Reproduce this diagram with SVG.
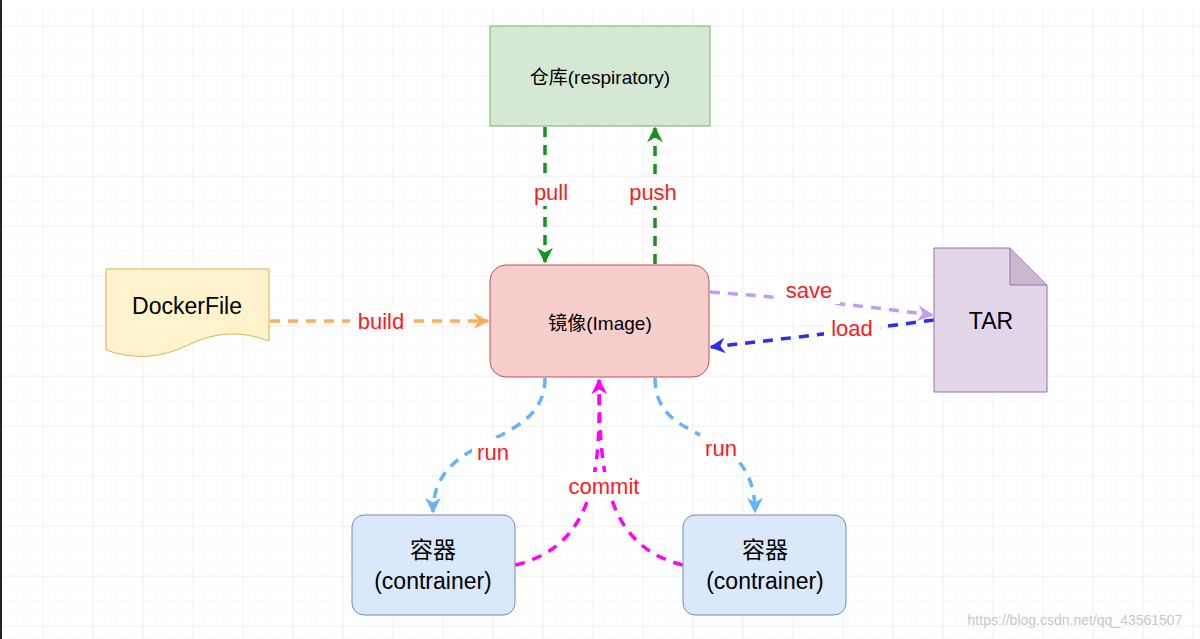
<svg xmlns="http://www.w3.org/2000/svg" width="1200" height="639" viewBox="0 0 1200 639">
<defs>
<pattern id="minor" x="5.5" y="1" width="12.5" height="12.5" patternUnits="userSpaceOnUse"><path d="M12.5 0V12.5M0 12.5H12.5" fill="none" stroke="#f5f5f5" stroke-width="1"/></pattern>
<pattern id="major" x="-7" y="26" width="50" height="50" patternUnits="userSpaceOnUse"><path d="M0 0V50M0 0H50" fill="none" stroke="#ececec" stroke-width="1"/></pattern>
<marker id="aG" viewBox="0 0 10 10" refX="9" refY="5" markerWidth="4.5" markerHeight="4.5" orient="auto" markerUnits="strokeWidth"><path d="M0 0L10 5L0 10L3 5Z" fill="#14941b"/></marker>
<marker id="aO" viewBox="0 0 10 10" refX="9" refY="5" markerWidth="4.5" markerHeight="4.5" orient="auto" markerUnits="strokeWidth"><path d="M0 0L10 5L0 10L3 5Z" fill="#ffad5c"/></marker>
<marker id="aP" viewBox="0 0 10 10" refX="9" refY="5" markerWidth="4.5" markerHeight="4.5" orient="auto" markerUnits="strokeWidth"><path d="M0 0L10 5L0 10L3 5Z" fill="#c39cf4"/></marker>
<marker id="aB" viewBox="0 0 10 10" refX="9" refY="5" markerWidth="4.5" markerHeight="4.5" orient="auto" markerUnits="strokeWidth"><path d="M0 0L10 5L0 10L3 5Z" fill="#2d2df5"/></marker>
<marker id="aL" viewBox="0 0 10 10" refX="9" refY="5" markerWidth="4.5" markerHeight="4.5" orient="auto" markerUnits="strokeWidth"><path d="M0 0L10 5L0 10L3 5Z" fill="#66b2ff"/></marker>
<marker id="aM" viewBox="0 0 10 10" refX="9" refY="5" markerWidth="4.5" markerHeight="4.5" orient="auto" markerUnits="strokeWidth"><path d="M0 0L10 5L0 10L3 5Z" fill="#ff00ff"/></marker>
</defs>
<style>
text{font-family:"Liberation Sans","Noto Sans CJK SC",sans-serif;text-anchor:middle;dominant-baseline:central}
.n{font-size:23px;fill:#000}
.s{font-size:19px;fill:#000}
.l{font-size:22px;fill:#ff1a1a}
.c{fill:none;stroke-width:3.5;stroke-dasharray:10 8}
</style>
<rect width="1200" height="639" fill="#fff"/>
<rect x="0" y="8" width="1200" height="631" fill="url(#minor)"/>
<rect x="0" y="8" width="1200" height="631" fill="url(#major)"/>
<rect x="0" y="0" width="2" height="639" fill="#222"/>
<g id="connectors">
<path class="c" d="M545 127V262" stroke="#14941b" marker-end="url(#aG)"/>
<path class="c" d="M655 264V128" stroke="#14941b" marker-end="url(#aG)"/>
<path class="c" d="M270 321H488" stroke="#ffad5c" marker-end="url(#aO)"/>
<path class="c" d="M710 292Q820 300 932 315" stroke="#c39cf4" marker-end="url(#aP)"/>
<path class="c" d="M934 320Q820 335 711 347" stroke="#2d2df5" marker-end="url(#aB)"/>
<path class="c" d="M545 378C545 450 433 430 433 512" stroke="#66b2ff" marker-end="url(#aL)"/>
<path class="c" d="M655 378C655 450 755 420 755 512" stroke="#66b2ff" marker-end="url(#aL)"/>
<path class="c" d="M515 565C600 545 600 460 599 380" stroke="#ff00ff" marker-end="url(#aM)"/>
<path class="c" d="M683 565C600 545 600 460 599 380" stroke="#ff00ff"/>
<rect x="528" y="178" width="46" height="28" fill="#fff"/><text class="l" x="551" y="192">pull</text>
<rect x="622" y="178" width="62" height="28" fill="#fff"/><text class="l" x="653" y="192">push</text>
<rect x="350" y="307" width="62" height="28" fill="#fff"/><text class="l" x="381" y="321">build</text>
<rect x="778" y="276" width="62" height="28" fill="#fff"/><text class="l" x="809" y="290">save</text>
<rect x="824" y="314" width="56" height="28" fill="#fff"/><text class="l" x="852" y="328">load</text>
<rect x="472" y="438" width="42" height="28" fill="#fff"/><text class="l" x="493" y="452">run</text>
<rect x="700" y="434" width="42" height="28" fill="#fff"/><text class="l" x="721" y="448">run</text>
<rect x="560" y="472" width="88" height="28" fill="#fff"/><text class="l" x="604" y="486">commit</text>
</g>
<g id="repo"><rect x="490" y="26" width="220" height="100" fill="#d5e8d4" stroke="#82b366"/><text class="s" x="600" y="77">仓库(respiratory)</text></g>
<g id="image"><rect x="490" y="265" width="219" height="112" rx="16" fill="#f8cecc" stroke="#b85450"/><text class="s" x="600" y="323">镜像(Image)</text></g>
<g id="dockerfile"><path d="M106 269H269V341Q228 325 188 345T106 350Z" fill="#fff2cc" stroke="#d6b656"/><text class="n" x="187" y="306">DockerFile</text></g>
<g id="tar"><path d="M934 248H1010L1047 285V392H934Z" fill="#e1d5e7" stroke="#9673a6"/><path d="M1010 248V285H1047" fill="#c9b8d2" stroke="#9673a6"/><text class="n" x="991" y="321">TAR</text></g>
<g id="c1"><rect x="352" y="515" width="163" height="100" rx="12" fill="#dae8fc" stroke="#6c8ebf"/><text class="n" x="433" y="550">容器</text><text class="n" x="433" y="581">(contrainer)</text></g>
<g id="c2"><rect x="683" y="515" width="163" height="100" rx="12" fill="#dae8fc" stroke="#6c8ebf"/><text class="n" x="765" y="550">容器</text><text class="n" x="765" y="581">(contrainer)</text></g>
<text x="1075" y="620" style="font-size:14px;fill:#c8c8c8">https://blog.csdn.net/qq_43561507</text>
</svg>
